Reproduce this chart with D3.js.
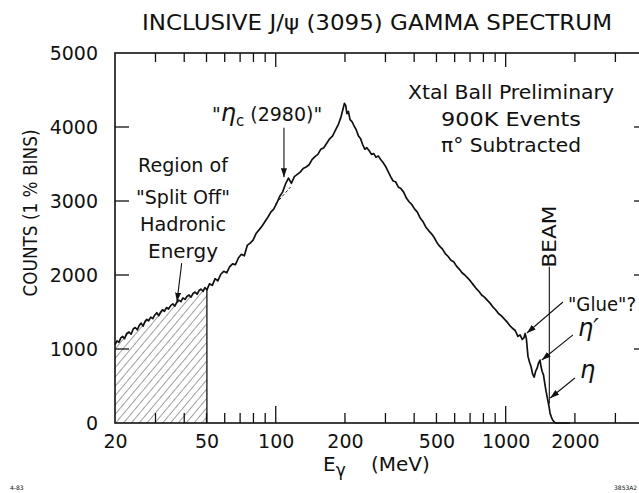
<!DOCTYPE html>
<html>
<head>
<meta charset="utf-8">
<script src="https://cdn.jsdelivr.net/npm/d3@7"></script>
<style>
  body { margin: 0; background: white; }
  svg { display: block; }
</style>
</head>
<body>
<script>
const FONT = 'DejaVu Sans'
const INK = '#111'

// spectrum: [E_gamma (MeV), counts per 1% bin]
const splitOffRegion = [
  [20,1060],[20.4,1110],[20.8,1090],[21.2,1150],[21.6,1170],[22,1140],[22.5,1210],[23,1230],[23.5,1200],
  [24,1270],[24.5,1290],[25,1260],[25.5,1320],[26,1350],[26.5,1310],[27,1370],[27.5,1400],[28,1380],
  [28.6,1430],[29.2,1410],[29.8,1460],[30.4,1490],[31,1450],[31.6,1500],[32.2,1530],[32.8,1510],
  [33.5,1560],[34.2,1540],[35,1590],[35.7,1610],[36.4,1580],[37.1,1630],[37.9,1660],[38.7,1640],
  [39.5,1690],[40.3,1670],[41.1,1710],[42,1730],[42.8,1700],[43.7,1750],[44.6,1770],[45.5,1740],
  [46.4,1790],[47.3,1810],[48.3,1780],[49.2,1830],[50.2,1800]
]
const risingEdge = [
  [51.5,1880],[53,1860],[54.5,1950],[56,1920],[57.7,2010],[59.4,2050],[61.2,2030],[63,2110],[64.9,2150],
  [66.8,2140],[68.8,2230],[70.9,2280],[73,2260],[75.2,2400],[77.4,2430],[79.7,2470],[82.1,2560],
  [84.6,2610],[87.1,2660],[89.7,2720],[92.4,2780],[95.2,2850],[98,2890],[101,2970],[104,3060],
  [107.1,3120],[110.3,3230],[113.6,3310],[117,3240],[120.5,3330],[124.1,3360],[127.8,3390],[131.6,3440],
  [135.5,3460],[139.6,3490],[143.8,3560],[148.1,3600],[152.5,3630],[157.1,3700],[161.8,3720],
  [166.6,3780],[171.6,3840],[176.8,3880],[182.1,3960],[187.5,4040],[192,4130],[196,4240],[199,4320]
]
const fallingEdge = [
  [201.5,4290],[204,4180],[207,4210],[210.5,4100],[215,4070],[219.5,4010],[224,3960],[229,3880],
  [234,3840],[239,3760],[244,3700],[249,3720],[255,3680],[261,3630],[267,3640],[273,3590],[279,3610],
  [286,3560],[293,3520],[300,3470],[308,3400],[316,3330],[324,3270],[332,3260],[341,3190],[350,3170],
  [360,3120],[370,3040],[380,2990],[391,2950],[402,2890],[413,2850],[425,2770],[437,2720],[449,2650],
  [462,2600],[475,2560],[488,2510],[502,2440],[516,2390],[531,2350],[546,2290],[562,2250],[578,2200],
  [594,2180],[611,2120],[628,2080],[646,2030],[664,2000],[683,1960],[702,1920],[722,1870],[743,1820],
  [764,1780],[786,1730],[808,1700],[831,1660],[855,1620],[879,1570],[904,1530],[930,1480],[956,1450],
  [983,1410],[1011,1370],[1040,1320],[1070,1280]
]
const endpointRegion = [
  [1100,1250],[1130,1170],[1155,1190],[1180,1130],[1200,1150],[1215,1210],[1230,1140],[1250,900],
  [1270,820],[1290,760],[1310,660],[1330,620],[1350,700],[1370,740],[1390,810],[1410,850],[1425,760],
  [1440,700],[1460,650],[1480,530],[1500,420],[1520,330],[1540,240],[1560,130],[1580,80],[1600,40],
  [1630,10],[1660,0],[1900,0]
]
// dashed smooth background under the eta_c
const etacBackground = [[100,2960],[116,3190]]

const yTicks = [0, 1000, 2000, 3000, 4000, 5000]
const xLabelTicks = [20, 50, 100, 200, 500, 1000, 2000]
const xMinorTicks = [30, 40, 50, 60, 70, 80, 90, 200, 300, 400, 500, 600, 700, 800, 900, 2000, 3000]
const xMajorTicks = [100, 1000]
const BEAM_ENERGY = 1548

const width = 639, height = 493

const svg = d3.select('body').append('svg')
  .attr('width', width).attr('height', height)
  .style('font-family', FONT)

const x = d3.scaleLog().domain([20, 4200]).range([115, 649])
const y = d3.scaleLinear().domain([0, 5000]).range([423, 53])
const [x0, x1] = x.range(), [yb, yt] = y.range()

const defs = svg.append('defs')
defs.append('pattern')
  .attr('id', 'hatch').attr('patternUnits', 'userSpaceOnUse')
  .attr('width', 6).attr('height', 6).attr('patternTransform', 'rotate(40)')
  .append('line').attr('x1', 0).attr('y1', 0).attr('x2', 0).attr('y2', 6)
  .attr('stroke', INK).attr('stroke-width', 0.8)
defs.append('marker')
  .attr('id', 'arrow').attr('markerUnits', 'userSpaceOnUse')
  .attr('markerWidth', 9).attr('markerHeight', 6).attr('refX', 9).attr('refY', 3)
  .attr('orient', 'auto')
  .append('path').attr('d', 'M0,0 L9,3 L0,6 Z').attr('fill', INK)

// Titre
svg.append('text')
  .text('INCLUSIVE J/\u03c8 (3095) GAMMA  SPECTRUM')
  .attr('x', 142).attr('y', 30).attr('font-size', 22).attr('fill', INK)
  .attr('textLength', 470).attr('lengthAdjust', 'spacingAndGlyphs')

//hatched split-off area
svg.append('path').datum(splitOffRegion)
  .attr('d', d3.area().x(d => x(d[0])).y0(yb).y1(d => y(d[1])))
  .attr('fill', 'url(#hatch)')
const last = splitOffRegion[splitOffRegion.length - 1]
svg.append('line')
  .attr('x1', x(last[0])).attr('x2', x(last[0]))
  .attr('y1', y(last[1])).attr('y2', yb)
  .attr('stroke', INK).attr('stroke-width', 1.3)

// frame
svg.append('rect')
  .attr('x', x0).attr('y', yt).attr('width', x1 - x0).attr('height', yb - yt)
  .attr('fill', 'none').attr('stroke', INK).attr('stroke-width', 1.6)

// inward tick marks from the scales: bottom, top, left, right
const xTickMarks = xMinorTicks.map(v => ({ v, len: 10 })).concat(xMajorTicks.map(v => ({ v, len: 17 })))
svg.append('g').selectAll('line').data(xTickMarks).join('line')
  .attr('x1', d => x(d.v)).attr('x2', d => x(d.v))
  .attr('y1', yb).attr('y2', d => yb - d.len)
  .attr('stroke', INK).attr('stroke-width', 1.3)
svg.append('g').selectAll('line').data(xTickMarks).join('line')
  .attr('x1', d => x(d.v)).attr('x2', d => x(d.v))
  .attr('y1', yt).attr('y2', d => yt + (d.len > 10 ? 14 : 9))
  .attr('stroke', INK).attr('stroke-width', 1.3)
const yInner = yTicks.slice(1, -1)
svg.append('g').selectAll('line').data(yInner).join('line')
  .attr('x1', x0).attr('x2', x0 + 14).attr('y1', d => y(d)).attr('y2', d => y(d))
  .attr('stroke', INK).attr('stroke-width', 1.3)
svg.append('g').selectAll('line').data(yInner).join('line')
  .attr('x1', x1).attr('x2', x1 - 15).attr('y1', d => y(d)).attr('y2', d => y(d))
  .attr('stroke', INK).attr('stroke-width', 1.3)

// tick labels
function styleAxis(g) {
  g.select('.domain').remove()
  g.selectAll('line').remove()
  g.selectAll('text').attr('fill', INK)
  g.attr('font-family', FONT).attr('font-size', 19)
}
svg.append('g').attr('transform', `translate(0,${yb})`)
  .call(d3.axisBottom(x).tickValues(xLabelTicks).tickSize(0).tickPadding(12).tickFormat(d3.format('d')))
  .call(styleAxis)
svg.append('g').attr('transform', `translate(${x0},0)`)
  .call(d3.axisLeft(y).tickValues(yTicks).tickSize(0).tickPadding(17).tickFormat(d3.format('d')))
  .call(styleAxis)

// axis titles
svg.append('text')
  .attr('transform', 'translate(37,213) rotate(-90)')
  .attr('text-anchor', 'middle').attr('font-size', 19).attr('fill', INK)
  .attr('textLength', 167).attr('lengthAdjust', 'spacingAndGlyphs')
  .text('COUNTS  (1 % BINS)')
const xt = svg.append('text').attr('x', 323).attr('y', 471).attr('font-size', 20).attr('fill', INK)
xt.append('tspan').text('E')
xt.append('tspan').attr('dy', 5).attr('font-size', 17).text('\u03b3')
xt.append('tspan').attr('x', 371).attr('dy', -5).text('(MeV)')

// spectrum
const spectrum = splitOffRegion.concat(risingEdge, fallingEdge, endpointRegion)
svg.append('path').datum(spectrum)
  .attr('d', d3.line().x(d => x(d[0])).y(d => y(d[1])))
  .attr('fill', 'none').attr('stroke', INK).attr('stroke-width', 1.7)
  .attr('stroke-linejoin', 'round')
svg.append('path').datum(etacBackground)
  .attr('d', d3.line().x(d => x(d[0])).y(d => y(d[1])))
  .attr('fill', 'none').attr('stroke', INK).attr('stroke-width', 0.9)
  .attr('stroke-dasharray', '3,2')

// beam line
svg.append('line')
  .attr('x1', x(BEAM_ENERGY)).attr('x2', x(BEAM_ENERGY))
  .attr('y1', y(2110)).attr('y2', y(260))
  .attr('stroke', INK).attr('stroke-width', 1.1)
svg.append('text')
  .attr('transform', `translate(${x(BEAM_ENERGY) + 7},${y(2520)}) rotate(-90)`)
  .attr('text-anchor', 'middle').attr('font-size', 19).attr('fill', INK)
  .attr('textLength', 62).attr('lengthAdjust', 'spacingAndGlyphs')
  .text('BEAM')

// arrows, in data coordinates [E, counts]
const arrows = [
  { from: [108.6, 3990], to: [108.6, 3320] },
  { from: [39.0, 2160], to: [37.2, 1640] },
  { from: [1774, 1635], to: [1237, 1216] },
  { from: [1962, 1190], to: [1436, 851] },
  { from: [2000, 608], to: [1562, 338] }
]
svg.append('g').selectAll('line').data(arrows).join('line')
  .attr('x1', d => x(d.from[0])).attr('y1', d => y(d.from[1]))
  .attr('x2', d => x(d.to[0])).attr('y2', d => y(d.to[1]))
  .attr('stroke', INK).attr('stroke-width', 1.1).attr('marker-end', 'url(#arrow)')

// text notes
function note(lines, xPos, yPos, anchor, size, len) {
  lines.forEach((t, i) => {
    svg.append('text')
      .attr('x', xPos).attr('y', yPos[i]).attr('text-anchor', anchor)
      .attr('font-size', size).attr('fill', INK)
      .attr('textLength', len[i]).attr('lengthAdjust', 'spacingAndGlyphs')
      .text(t)
  })
}
note(['Region of', '"Split Off"', 'Hadronic', 'Energy'], 183, [172, 204, 231, 258], 'middle', 19, [90, 94, 86, 70])
note(['Xtal Ball Preliminary', '900K Events', '\u03c0\u00b0 Subtracted'], 511, [99, 126, 152], 'middle', 19, [206, 140, 140])
note(['"Glue"?'], 568, [311], 'start', 19, [68])

const etac = svg.append('text').attr('x', 212).attr('y', 121).attr('font-size', 19).attr('fill', INK)
etac.append('tspan').text('"')
etac.append('tspan').attr('font-style', 'italic').attr('font-size', 24).text('\u03b7')
etac.append('tspan').attr('dy', 5).attr('font-size', 15).text('c')
etac.append('tspan').attr('dy', -5).text(' (2980)"')

svg.append('text').attr('x', 578).attr('y', 336).attr('font-size', 24)
  .attr('font-style', 'italic').attr('fill', INK).text('\u03b7\u2032')
svg.append('text').attr('x', 580).attr('y', 378).attr('font-size', 24)
  .attr('font-style', 'italic').attr('fill', INK).text('\u03b7')

// scan reference marks
svg.append('text').attr('x', 10).attr('y', 490).attr('font-size', 6).attr('fill', INK).text('4-83')
svg.append('text').attr('x', 614).attr('y', 490).attr('font-size', 6).attr('fill', INK).text('3853A2')

//Curseur qui ne change pas
svg.style('cursor', 'default')
</script>
</body>
</html>
